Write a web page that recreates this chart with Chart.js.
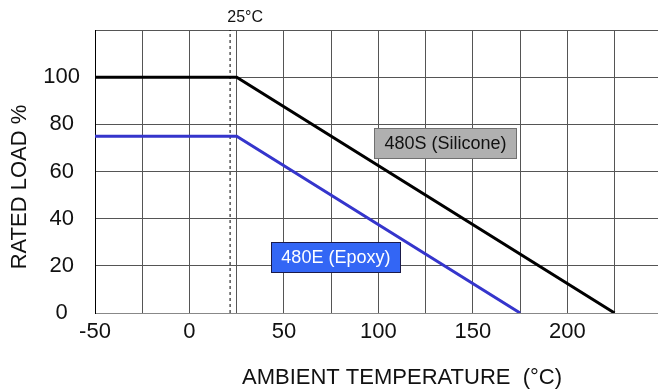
<!DOCTYPE html>
<html>
<head>
<meta charset="utf-8">
<script src="https://cdn.jsdelivr.net/npm/chart.js@4/dist/chart.umd.min.js"></script>
<style>
  html, body { margin: 0; padding: 0; background: #fff; }
  #wrap { width: 658px; height: 390px; }
</style>
</head>
<body>
<div id="wrap"><canvas id="derating"></canvas></div>
<script>
// derating curves
const tempSilicone = [-50, 25, 225];
const loadSilicone = [100, 100, 0];
const tempEpoxy = [-50, 25, 175];
const loadEpoxy = [75, 75, 0];
const markerTemp = 21.5;          // dashed 25°C marker line
const xGrid = [-50, -25, 0, 25, 50, 75, 100, 125, 150, 175, 200, 225];
const xLabels = [-50, 0, 50, 100, 150, 200];
const yLabels = [0, 20, 40, 60, 80, 100];

const font = 'Liberation Sans, Arial, sans-serif';

// text boxes on the plot: [text, centre temp, centre load, fill, border, text colour]
const boxes = [
  ['480S (Silicone)', 135.5, 72, '#b0b0b0', '#707070', '#111'],
  ['480E (Epoxy)', 77.5, 23.8, '#3366f5', '#1a1a4a', '#fff']
];

const extras = {
  id: 'extras',
  afterDatasetsDraw(chart) {
    const ctx = chart.ctx;
    const x = chart.scales.x, y = chart.scales.y;
    ctx.save();
    ctx.font = '18px ' + font;
    ctx.textAlign = 'center';
    ctx.textBaseline = 'middle';
    boxes.forEach(b => {
      const cx = x.getPixelForValue(b[1]);
      const cy = y.getPixelForValue(b[2]);
      const w = ctx.measureText(b[0]).width + 20;
      const h = 30;
      ctx.fillStyle = b[3];
      ctx.fillRect(Math.round(cx - w / 2) + 0.5, Math.round(cy - h / 2) + 0.5, Math.round(w), h);
      ctx.strokeStyle = b[4];
      ctx.lineWidth = 1;
      ctx.strokeRect(Math.round(cx - w / 2) + 0.5, Math.round(cy - h / 2) + 0.5, Math.round(w), h);
      ctx.fillStyle = b[5];
      ctx.fillText(b[0], cx, cy + 1);
    });
    ctx.restore();
  },
  afterDraw(chart) {
    const ctx = chart.ctx;
    const x = chart.scales.x;
    const area = chart.chartArea;
    ctx.save();
    ctx.fillStyle = '#111';
    ctx.textAlign = 'center';
    ctx.textBaseline = 'middle';
    ctx.font = '16px ' + font;
    ctx.fillText('25°C', x.getPixelForValue(29.5), area.top - 12);
    ctx.font = '22px ' + font;
    ctx.fillText('AMBIENT TEMPERATURE  (°C)', 402, 378);
    ctx.translate(20, 187);
    ctx.rotate(-Math.PI / 2);
    ctx.fillText('RATED LOAD %', 0, 0);
    ctx.restore();
  }
};

new Chart(document.getElementById('derating'), {
  type: 'line',
  data: {
    datasets: [
      {
        label: '480S (Silicone)',
        data: tempSilicone.map((t, i) => ({ x: t, y: loadSilicone[i] })),
        borderColor: '#000',
        borderWidth: 3,
        pointRadius: 0
      },
      {
        label: '480E (Epoxy)',
        data: tempEpoxy.map((t, i) => ({ x: t, y: loadEpoxy[i] })),
        borderColor: '#3535cc',
        borderWidth: 3,
        pointRadius: 0
      },
      {
        label: '25°C',
        data: [{ x: markerTemp, y: 0 }, { x: markerTemp, y: 120 }],
        borderColor: '#000',
        borderWidth: 1,
        borderDash: [3, 3],
        pointRadius: 0
      }
    ]
  },
  options: {
    animation: false,
    responsive: true,
    maintainAspectRatio: false,
    devicePixelRatio: 1,
    layout: { padding: { top: 30, left: 0, right: 0, bottom: 0 } },
    plugins: {
      legend: { display: false },
      tooltip: { enabled: false }
    },
    scales: {
      x: {
        type: 'linear',
        min: -50,
        max: 248,
        afterBuildTicks: s => { s.ticks = xGrid.concat([248]).map(v => ({ value: v })); },
        afterFit: s => { s.height = 77; s.paddingLeft = 0; s.paddingRight = 0; },
        ticks: {
          color: '#111',
          font: { family: font, size: 22 },
          padding: 6,
          maxRotation: 0,
          autoSkip: false,
          callback: v => xLabels.includes(v) ? String(v) : ''
        },
        grid: { color: '#555', lineWidth: 1, drawTicks: false },
        border: { color: '#888', width: 1 }
      },
      y: {
        min: 0,
        max: 120,
        afterFit: s => { s.width = 95; s.paddingTop = 0; s.paddingBottom = 0; },
        ticks: {
          stepSize: 20,
          color: '#111',
          font: { family: font, size: 22 },
          padding: 15,
          crossAlign: 'center',
          callback: v => yLabels.includes(v) ? String(v) : ''
        },
        grid: { color: '#555', lineWidth: 1, drawTicks: false },
        border: { color: '#000', width: 1 }
      }
    }
  },
  plugins: [extras]
});
</script>
</body>
</html>
